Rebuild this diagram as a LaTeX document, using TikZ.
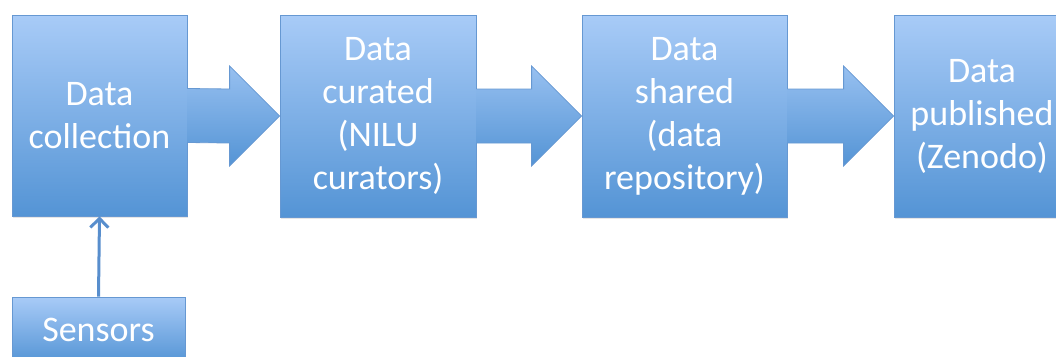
\documentclass[tikz,border=0pt]{standalone}
\usepackage{fontspec}
\setmainfont{Carlito}
\usetikzlibrary{calc,arrows.meta,shadows}
\definecolor{topc}{RGB}{168,203,247}
\definecolor{botc}{RGB}{84,148,213}
\definecolor{edgec}{RGB}{102,152,210}
\definecolor{linec}{RGB}{88,142,205}
\begin{document}
\begin{tikzpicture}[x=1pt,y=1pt,
  box/.style={draw=edgec, line width=0.8pt, top color=topc, bottom color=botc,
    text=white, font=\fontsize{36}{43}\selectfont, align=center, inner sep=0pt,
    drop shadow={shadow xshift=1pt, shadow yshift=-2pt, opacity=0.2}},
  barrow/.style={draw=edgec, line width=0.8pt, top color=topc!80!botc, bottom color=botc, line join=miter},
  uparrow/.style={draw=linec, line width=3pt, -{Straight Barb[length=9pt,width=18pt]}}]
\useasboundingbox (0,0) rectangle (1056,-356);
\clip (0,0) rectangle (1056,-356);
\node[box, minimum width=175, minimum height=201] (b1) at (99.5,-115.5) {Data\\collection};
\node[box, minimum width=196, minimum height=202] (b2) at (378,-116) {Data\\curated\\(NILU\\curators)};
\node[box, minimum width=205, minimum height=202] (b3) at (684.5,-116) {Data\\shared\\(data\\repository)};
\node[box, minimum width=176, minimum height=202] (b4) at (982,-116) {Data\\published\\(Zenodo)};
\node[box, minimum width=173, minimum height=66] (s) at (98.5,-330) {Sensors};
\foreach \a/\b in {b1/b2, b2/b3, b3/b4}{
  \path[barrow] ($(\a.east)+(0,27)$) -- ($(\b.west)+(-50,27)$) -- ($(\b.west)+(-50,50)$)
    -- (\b.west) -- ($(\b.west)+(-50,-50)$) -- ($(\b.west)+(-50,-27)$) -- ($(\a.east)+(0,-27)$);
}
\draw[uparrow] (s.north) -- (b1.south);
\end{tikzpicture}
\end{document}
